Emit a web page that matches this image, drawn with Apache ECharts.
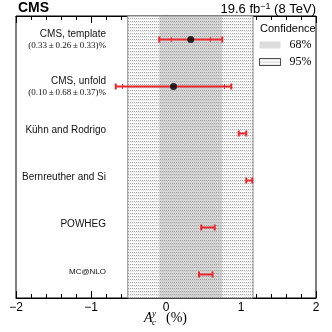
<!DOCTYPE html>
<html>
<head>
<meta charset="utf-8">
<script src="https://cdn.jsdelivr.net/npm/echarts@6/dist/echarts.min.js"></script>
<style>html,body{margin:0;padding:0;background:#fff;}#c{width:332px;height:332px;}</style>
</head>
<body>
<div id="c"></div>
<script>
// ---- data ----
const categories = ['CMS, template', 'CMS, unfold', 'Kühn and Rodrigo', 'Bernreuther and Si', 'POWHEG', 'MC@NLO'];
const subLabels = ['(0.33\u2009±\u20090.26\u2009±\u20090.33)%', '(0.10\u2009±\u20090.68\u2009±\u20090.37)%', '', '', '', ''];
const centralValues = [0.33, 0.10, 1.02, 1.11, 0.56, 0.53];
const totalErrors = [0.42, 0.77, 0.05, 0.04, 0.09, 0.09];
const statErrors = [0.26, 0.68, null, null, null, null];
const measuredIdx = [0, 1];
const band68 = [-0.09, 0.75];
const band95 = [-0.51, 1.16];
const xMin = -2, xMax = 2;
const legendNames = ['68%', '95%'];

// ---- dotted pattern ----
const pc = document.createElement('canvas');
pc.width = 2; pc.height = 3;
const pctx = pc.getContext('2d');
pctx.fillStyle = '#ffffff'; pctx.fillRect(0, 0, 2, 3);
pctx.fillStyle = '#a0a0a0'; pctx.fillRect(0, 0, 1, 1);
pctx.fillStyle = '#e4e4e4'; pctx.fillRect(1, 1, 1, 1);
const dotPattern = { image: pc, repeat: 'repeat' };

const RED = '#e8282e';
const SANS = 'Liberation Sans';
const SERIF = 'Liberation Serif';

const errData = categories.map((c, i) => [i, centralValues[i], totalErrors[i], statErrors[i] == null ? 0 : statErrors[i]]);
const pointData = measuredIdx.map(i => [centralValues[i], i]);

const chart = echarts.init(document.getElementById('c'), null, { renderer: 'canvas' });
chart.setOption({
  animation: false,
  backgroundColor: '#fff',
  grid: { left: 16, right: 16, top: 16, bottom: 34, show: true, borderColor: '#000', borderWidth: 1, backgroundColor: 'transparent' },
  title: [
    { text: 'CMS', left: 18, top: 1, padding: 0, textStyle: { fontFamily: SANS, fontWeight: 'bold', fontSize: 14, color: '#000' } },
    { text: '19.6 fb{s|−1} (8 TeV)', right: 16, top: 2, padding: 0,
      textStyle: { fontFamily: SANS, fontWeight: 'normal', fontSize: 13, color: '#000',
        rich: { s: { fontFamily: SANS, fontSize: 9, verticalAlign: 'top', padding: [0, 0, 6, 0], color: '#000' } } } }
  ],
  legend: {
    orient: 'vertical', left: 259, top: 39, padding: 0,
    itemWidth: 21, itemHeight: 7, itemGap: 5,
    textStyle: { fontFamily: SERIF, fontSize: 12, color: '#000', padding: [0, 0, 0, 4] },
    data: [
      { name: legendNames[0], icon: 'rect', itemStyle: { color: '#d4d4d4', borderWidth: 0 } },
      { name: legendNames[1], icon: 'rect', itemStyle: { color: dotPattern, borderColor: '#222', borderWidth: 1 } }
    ],
    selectedMode: false
  },
  graphic: [
    { type: 'text', left: 260, top: 23, style: { text: 'Confidence', fontFamily: SANS, fontSize: 11, fill: '#000' } },
    { type: 'text', left: 144, top: 311, style: { text: 'A', fontFamily: SERIF, fontStyle: 'italic', fontSize: 14, fill: '#000' } },
    { type: 'text', left: 152, top: 309, style: { text: 'y', fontFamily: SERIF, fontStyle: 'italic', fontSize: 9, fill: '#000' } },
    { type: 'text', left: 152, top: 318, style: { text: 'c', fontFamily: SERIF, fontStyle: 'italic', fontSize: 9, fill: '#000' } },
    { type: 'text', left: 166, top: 311, style: { text: '(%)', fontFamily: SERIF, fontSize: 14, fill: '#000' } }
  ],
  xAxis: [
    {
      type: 'value', min: xMin, max: xMax, interval: 1, position: 'bottom',
      axisLine: { show: true, lineStyle: { color: '#000', width: 1 } },
      axisTick: { show: true, inside: true, length: 7, lineStyle: { color: '#000' } },
      minorTick: { show: true, splitNumber: 5, length: 4, lineStyle: { color: '#000' } },
      splitLine: { show: false },
      axisLabel: { margin: 4, fontFamily: SANS, fontSize: 12, color: '#000', formatter: v => String(v).replace('-', '−') }
    },
    {
      type: 'value', min: xMin, max: xMax, interval: 1, position: 'top',
      axisLine: { show: true, lineStyle: { color: '#000', width: 1 } },
      axisTick: { show: true, inside: true, length: 7, lineStyle: { color: '#000' } },
      minorTick: { show: true, splitNumber: 5, length: 4, lineStyle: { color: '#000' } },
      splitLine: { show: false },
      axisLabel: { show: false }
    }
  ],
  yAxis: {
    type: 'category', data: categories, inverse: true,
    axisLine: { show: true, lineStyle: { color: '#000' } },
    axisTick: { show: false },
    splitLine: { show: false },
    axisLabel: {
      inside: true, margin: 90, align: 'right', color: '#000',
      formatter: (v, i) => {
        const s = subLabels[i];
        if (s) return '{n|' + v + '}\n{s|' + s + '}';
        if (v === 'MC@NLO') return '{m|' + v + '}';
        return '{o|' + v + '}';
      },
      rich: {
        n: { fontFamily: SANS, fontSize: 10, color: '#111', lineHeight: 12, align: 'right' },
        s: { fontFamily: SERIF, fontSize: 9, color: '#111', lineHeight: 11, align: 'right' },
        o: { fontFamily: SANS, fontSize: 10, color: '#111', padding: [0, 0, 6, 0], align: 'right' },
        m: { fontFamily: SANS, fontSize: 8, color: '#111', padding: [0, 0, 6, 0], align: 'right' }
      }
    }
  },
  series: [
    {
      name: legendNames[1], type: 'scatter', data: [], z: 1,
      itemStyle: { color: '#eee' },
      markArea: { silent: true, z: 1,
        itemStyle: { color: dotPattern, borderColor: '#888', borderWidth: 1 },
        data: [[{ xAxis: band95[0] }, { xAxis: band95[1] }]] }
    },
    {
      name: legendNames[0], type: 'scatter', data: [], z: 2,
      itemStyle: { color: '#d4d4d4' },
      markArea: { silent: true, z: 2,
        itemStyle: { color: 'rgba(150,150,150,0.38)' },
        data: [[{ xAxis: band68[0] }, { xAxis: band68[1] }]] }
    },
    {
      type: 'custom', z: 5, data: errData,
      encode: { x: [1], y: 0 },
      renderItem: (params, api) => {
        const i = api.value(0), c = api.value(1), e = api.value(2), st = api.value(3);
        const lo = api.coord([c - e, i]);
        const hi = api.coord([c + e, i]);
        const y = lo[1];
        const ls = { stroke: RED, lineWidth: 2 };
        const children = [
          { type: 'line', shape: { x1: lo[0], y1: y, x2: hi[0], y2: y }, style: ls },
          { type: 'line', shape: { x1: lo[0], y1: y - 3, x2: lo[0], y2: y + 3 }, style: ls },
          { type: 'line', shape: { x1: hi[0], y1: y - 3, x2: hi[0], y2: y + 3 }, style: ls }
        ];
        if (st > 0) {
          const sl = api.coord([c - st, i])[0], sh = api.coord([c + st, i])[0];
          children.push({ type: 'line', shape: { x1: sl, y1: y - 2.5, x2: sl, y2: y + 2.5 }, style: { stroke: RED, lineWidth: 1 } });
          children.push({ type: 'line', shape: { x1: sh, y1: y - 2.5, x2: sh, y2: y + 2.5 }, style: { stroke: RED, lineWidth: 1 } });
        }
        return { type: 'group', children };
      }
    },
    {
      type: 'scatter', z: 6, data: pointData, symbol: 'circle', symbolSize: 7,
      itemStyle: { color: '#000' }
    }
  ]
});
</script>
</body>
</html>
